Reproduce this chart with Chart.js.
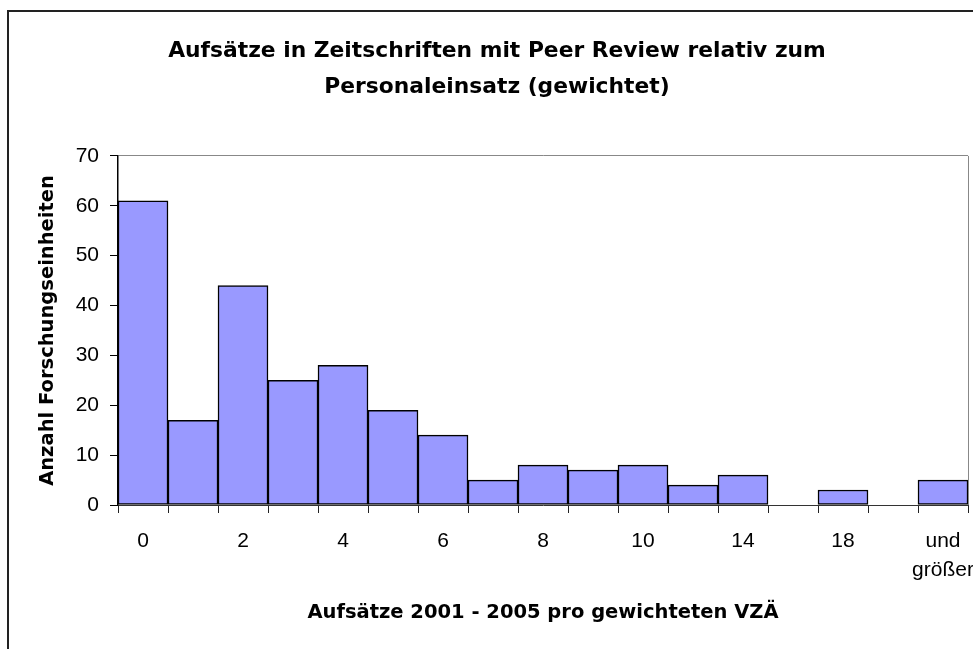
<!DOCTYPE html>
<html lang="de">
  <head>
    <meta charset="UTF-8" />
    <script src="https://cdn.jsdelivr.net/npm/chart.js"></script>
    <title>Aufsätze relativ zum Personaleinsatz</title>
    <style>
      body { margin: 0; background: #fff; overflow: hidden; }
      .frame { position: absolute; left: 7px; top: 10px; width: 1000px; height: 700px;
               border-left: 2px solid #222; border-top: 2px solid #222; }
      #histChart { position: absolute; left: 0; top: 0; }
    </style>
  </head>
  <body>
    <div class="frame"></div>
    <canvas id="histChart" width="973" height="649"></canvas>
    <script>
      // bins (only every second one gets a visible label)
      const binLabels = ['0', '1', '2', '3', '4', '5', '6', '7', '8', '9', '10', '12', '14', '16', '18', '20', ['und', 'größer']];
      const counts = [61, 17, 44, 25, 28, 19, 14, 5, 8, 7, 8, 4, 6, 0, 3, 0, 5];
      const yTicks = [0, 10, 20, 30, 40, 50, 60, 70];

      const titleLines = ['Aufsätze in Zeitschriften mit Peer Review relativ zum', 'Personaleinsatz (gewichtet)'];
      const xTitle = 'Aufsätze 2001 - 2005 pro gewichteten VZÄ';
      const yTitle = 'Anzahl Forschungseinheiten';

      const tickFont = { family: "'Liberation Sans', Arial, sans-serif", size: 21, lineHeight: 1.38 };
      const titleFont = { family: "'DejaVu Sans', sans-serif", size: 19.5, weight: 'bold' };

      const ctx = document.getElementById('histChart').getContext('2d');
      const chart = new Chart(ctx, {
        type: 'bar',
        data: {
          labels: binLabels,
          datasets: [{
            data: counts,
            backgroundColor: '#9999ff',
            borderColor: '#000',
            borderWidth: 1.5,
            borderSkipped: false,
            categoryPercentage: 1,
            barPercentage: 1
          }]
        },
        options: {
          responsive: false,
          animation: false,
          layout: { padding: { left: 26, right: 5, top: 0, bottom: 0 } },
          plugins: {
            legend: { display: false },
            tooltip: { enabled: false },
            title: {
              display: true,
              text: titleLines,
              color: '#000',
              font: { family: "'DejaVu Sans', sans-serif", size: 21.8, weight: 'bold', lineHeight: 1.65 },
              padding: { top: 33, bottom: 51 }
            }
          },
          scales: {
            x: {
              offset: true,
              grid: {
                offset: true,
                drawOnChartArea: true,
                color: c => (c.tick === undefined ? '#888' : 'rgba(0,0,0,0)'),
                tickColor: '#222',
                tickLength: 8
              },
              border: { color: '#333', width: 1 },
              ticks: {
                autoSkip: false,
                maxRotation: 0,
                minRotation: 0,
                color: '#000',
                font: tickFont,
                padding: 14,
                callback: (v, i) => (i % 2 === 0 ? binLabels[i] : '')
              },
              title: { display: true, text: xTitle, color: '#000', font: titleFont, padding: { top: 0, bottom: 24 } },
              afterFit: s => { s.height = 144; s.paddingLeft = 0; s.paddingRight = 0; }
            },
            y: {
              min: 0,
              max: 70,
              afterBuildTicks: s => { s.ticks = yTicks.map(v => ({ value: v })); },
              grid: {
                color: c => (c.tick && c.tick.value === 70 ? '#888' : 'rgba(0,0,0,0)'),
                tickColor: '#000',
                tickLength: 8
              },
              border: { color: '#000', width: 1.5 },
              ticks: { color: '#000', font: tickFont, padding: 11 },
              title: { display: true, text: yTitle, color: '#000', font: titleFont, padding: { top: 10, bottom: 0 } },
              afterFit: s => { s.width = 92; }
            }
          }
        }
      });
    </script>
  </body>
</html>
